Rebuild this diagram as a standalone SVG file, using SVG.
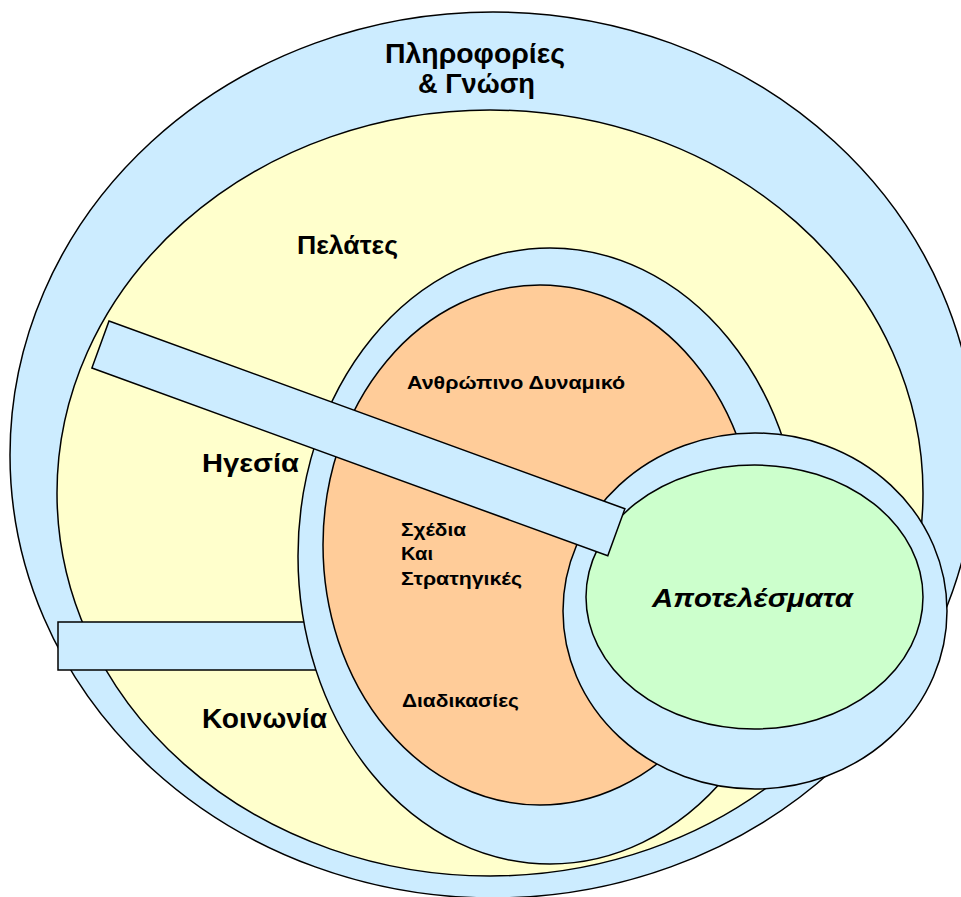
<svg xmlns="http://www.w3.org/2000/svg" width="961" height="897" viewBox="0 0 961 897">
  <style>
    .shape { stroke: #000; stroke-width: 1.5; }
    .blue { fill: #CCECFF; }
    .yellow { fill: #FFFFCC; }
    .orange { fill: #FFCC99; }
    .green { fill: #CCFFCC; }
    .lbl { font-family: "Liberation Sans", Arial, sans-serif; font-weight: bold; fill: #000; }
  </style>
  <rect width="961" height="897" fill="#fff"/>

  <!-- outer ring: information & knowledge -->
  <g id="knowledge">
    <ellipse class="shape blue" cx="493" cy="455" rx="483" ry="443"/>
    <text class="lbl" font-size="28" x="385" y="63" textLength="180" lengthAdjust="spacingAndGlyphs">Πληροφορίες</text>
    <text class="lbl" font-size="28" x="418" y="93" textLength="117" lengthAdjust="spacingAndGlyphs">&amp; Γνώση</text>
  </g>

  <!-- customers / leadership / society field -->
  <g id="customers">
    <ellipse class="shape yellow" cx="490" cy="493" rx="433" ry="383"/>
    <text class="lbl" font-size="25" x="297" y="254" textLength="101" lengthAdjust="spacingAndGlyphs">Πελάτες</text>
  </g>

  <g id="society-bar">
    <rect class="shape blue" x="58" y="622" width="262" height="48"/>
  </g>

  <g id="leadership">
    <text class="lbl" font-size="26" x="202" y="472" textLength="97" lengthAdjust="spacingAndGlyphs">Ηγεσία</text>
  </g>
  <g id="society">
    <text class="lbl" font-size="27" x="202" y="728" textLength="125" lengthAdjust="spacingAndGlyphs">Κοινωνία</text>
  </g>

  <!-- enablers core -->
  <g id="enablers-ring">
    <ellipse class="shape blue" cx="550" cy="556" rx="252" ry="308"/>
  </g>
  <g id="enablers">
    <ellipse class="shape orange" cx="540" cy="545" rx="217" ry="260"/>
    <text class="lbl" font-size="19" x="407" y="389" textLength="218" lengthAdjust="spacingAndGlyphs">Ανθρώπινο Δυναμικό</text>
    <text class="lbl" font-size="19" x="401" y="536" textLength="65" lengthAdjust="spacingAndGlyphs">Σχέδια</text>
    <text class="lbl" font-size="19" x="401" y="560" textLength="32" lengthAdjust="spacingAndGlyphs">Και</text>
    <text class="lbl" font-size="19" x="401" y="585" textLength="121" lengthAdjust="spacingAndGlyphs">Στρατηγικές</text>
    <text class="lbl" font-size="19" x="402" y="707" textLength="117" lengthAdjust="spacingAndGlyphs">Διαδικασίες</text>
  </g>

  <!-- results -->
  <g id="results">
    <ellipse class="shape blue" cx="755" cy="611" rx="192" ry="178"/>
    <ellipse class="shape green" cx="754.5" cy="597" rx="168.5" ry="132"/>
    <text class="lbl" font-size="26" font-style="italic" x="652" y="607" textLength="201" lengthAdjust="spacingAndGlyphs">Αποτελέσματα</text>
  </g>

  <!-- leadership bar linking to results -->
  <g id="leadership-bar">
    <rect class="shape blue" x="0" y="0" width="549" height="50" transform="translate(109,321) rotate(20)"/>
  </g>
</svg>
